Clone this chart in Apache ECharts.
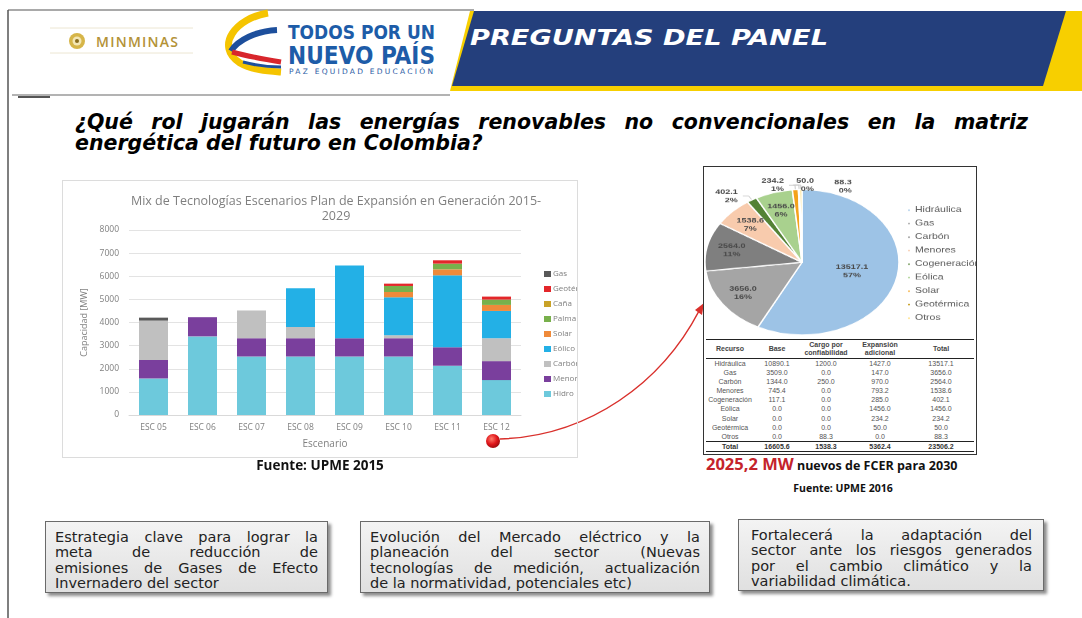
<!DOCTYPE html>
<html>
<head>
<meta charset="utf-8">
<script src="https://cdn.jsdelivr.net/npm/echarts@6/dist/echarts.min.js"></script>
<style>
  body { margin:0; width:1082px; height:618px; background:#fff; position:relative; overflow:hidden; font-family:"DejaVu Sans", sans-serif; }
  .abs { position:absolute; }
  #question { left:75px; top:112px; width:953px; font:bold italic 20.5px/21px "DejaVu Sans", sans-serif; text-align:justify; color:#000; }
  #barWrap { left:62px; top:180px; width:516px; height:278px; border:1px solid #dcdcdc; box-sizing:border-box; overflow:hidden; }
  #bar { left:-1px; top:-1px; width:560px; height:278px; }
  #pieBox { left:703px; top:166px; width:274px; height:289px; border:1px solid #333; box-sizing:border-box; }
  #pie { left:704px; top:167px; width:272px; height:228px; transform:scaleY(0.75); transform-origin:0 0; }
  #tbl { left:706px; top:339px; width:268px; border-collapse:collapse; font:7px "Liberation Sans", Arial, sans-serif; color:#555; }
  #tbl th { font-weight:bold; color:#444; padding:1px 0; border-top:1px solid #222; border-bottom:1px solid #222; line-height:8px; }
  #tbl td { text-align:center; padding:0; line-height:9.1px; }
  #tbl tr.tot td { font-weight:bold; color:#333; border-top:1px solid #222; border-bottom:1px solid #222; line-height:9px; }
  .src { font-family:"Open Sans", sans-serif; font-weight:bold; color:#111; }
  .box { top:521px; height:72px; box-sizing:border-box; border:1px solid #6a6a6a; background:linear-gradient(to bottom,#f3f3f3,#e0e0e0); box-shadow:3px 3px 3px rgba(0,0,0,0.45); padding:8px 9px; font:14.5px/15.3px "DejaVu Sans", sans-serif; color:#222; }
  .box span { display:block; text-align:justify; text-align-last:justify; white-space:nowrap; }
  .box span:last-child { text-align-last:left; }
</style>
</head>
<body>

<svg class="abs" style="left:0;top:0" width="1082" height="618">
  <!-- marco -->
  <line x1="8" y1="10" x2="8" y2="618" stroke="#555" stroke-width="1.5"/>
  <line x1="8" y1="10" x2="474" y2="10" stroke="#555" stroke-width="1.2"/>
  <!-- cabecera -->
  <polygon points="470,11 1082,11 1082,91 450,91" fill="#f7cf00"/>
  <polygon points="474,11 1066,11 1043,86 452,86" fill="#243f7c"/>
  <line x1="12" y1="95" x2="450" y2="95" stroke="#9a9a9a" stroke-width="1.5"/>
  <line x1="18" y1="97" x2="50" y2="97" stroke="#555" stroke-width="2"/>
  <line x1="50" y1="28" x2="193" y2="28" stroke="#ece6d2"/>
  <line x1="50" y1="53" x2="193" y2="53" stroke="#ece6d2"/>
  <circle cx="77" cy="41" r="8" fill="#d6b548"/>
  <circle cx="77" cy="41" r="4.5" fill="#f3e6b4"/>
  <circle cx="77" cy="41" r="2" fill="#8a6d1d"/>
  <text x="96" y="46.5" font-family="Open Sans" font-weight="600" font-size="14" fill="#b39237" textLength="82">MINMINAS</text>
  <path d="M268,13 C236,18 214,46 240,63 C252,70 268,71 281,72" stroke="#f5c400" stroke-width="7" fill="none"/>
  <path d="M277,30 C256,31 238,40 231,51" stroke="#1d4f9c" stroke-width="6" fill="none"/>
  <path d="M232,52 C246,56 263,59 281,62" stroke="#d8262c" stroke-width="5" fill="none"/>
  <path d="M243,62 C258,66 270,67 281,67" stroke="#1d4f9c" stroke-width="3" fill="none"/>
  <text x="288" y="39" font-family="DejaVu Sans Condensed" font-weight="bold" font-size="20" fill="#1d5ca8" textLength="147" lengthAdjust="spacingAndGlyphs">TODOS POR UN</text>
  <text x="288" y="64" font-family="DejaVu Sans Condensed" font-weight="bold" font-size="25" fill="#1d5ca8" textLength="147" lengthAdjust="spacingAndGlyphs">NUEVO PAÍS</text>
  <text x="289" y="74" font-family="DejaVu Sans" font-size="7.5" fill="#2a5ba4" textLength="144">PAZ  EQUIDAD  EDUCACIÓN</text>
  <text x="470" y="45" font-family="DejaVu Sans" font-weight="bold" font-style="italic" font-size="22" fill="#fff" textLength="358" lengthAdjust="spacingAndGlyphs">PREGUNTAS DEL PANEL</text>
  <!-- flecha -->
  <path d="M500,439 C590,436 662,382 699,311" stroke="#d9302c" stroke-width="1.5" fill="none"/>
  <polygon points="704,303 702,315 695,310" fill="#d9302c"/>
</svg>

<div id="question" class="abs">¿Qué rol jugarán las energías renovables no convencionales en la matriz energética del futuro en Colombia?</div>

<div id="barWrap" class="abs"><div id="bar" class="abs"></div></div>
<svg class="abs" style="left:484px;top:432px" width="18" height="18">
  <defs>
    <radialGradient id="dot" cx="40%" cy="35%" r="65%">
      <stop offset="0" stop-color="#ff7a6a"/>
      <stop offset="0.6" stop-color="#e0161b"/>
      <stop offset="1" stop-color="#a00d10"/>
    </radialGradient>
  </defs>
  <circle cx="9" cy="9" r="7" fill="url(#dot)"/>
</svg>
<div class="abs src" style="left:200px;top:456px;width:240px;text-align:center;font-size:13.5px;">Fuente: UPME 2015</div>

<div id="pieBox" class="abs"></div>
<div id="pie" class="abs"></div>
<table id="tbl" class="abs"></table>
<div class="abs src" style="left:706px;top:452px;white-space:nowrap;"><span style="color:#c4232b;font-size:16.5px;">2025,2 MW</span><span style="font-size:12.5px;"> nuevos de FCER para 2030</span></div>
<div class="abs src" style="left:743px;top:481px;width:200px;text-align:center;font-size:10.5px;">Fuente: UPME 2016</div>

<div class="abs box" style="left:45px;width:283px;"><span>Estrategia clave para lograr la</span><span>meta de reducción de</span><span>emisiones de Gases de Efecto</span><span>Invernadero del sector</span></div>
<div class="abs box" style="left:360px;width:350px;"><span>Evolución del Mercado eléctrico y la</span><span>planeación del sector (Nuevas</span><span>tecnologías de medición, actualización</span><span>de la normatividad, potenciales etc)</span></div>
<div class="abs box" style="left:738px;top:519px;width:306px;padding-left:12px;padding-right:11px;"><span>Fortalecerá la adaptación del</span><span>sector ante los riesgos generados</span><span>por el cambio climático y la</span><span>variabilidad climática.</span></div>

<script>
// escenarios del plan de expansión (MW)
const escenarios = ['ESC 05', 'ESC 06', 'ESC 07', 'ESC 08', 'ESC 09', 'ESC 10', 'ESC 11', 'ESC 12']
const hidro   = [1580, 3400, 2530, 2530, 2530, 2530, 2130, 1510]
const menores = [800, 830, 790, 790, 790, 790, 800, 820]
const carbon  = [1700, 0, 1200, 490, 0, 130, 0, 990]
const eolico  = [0, 0, 0, 1670, 3150, 1640, 3110, 1180]
const solar   = [0, 0, 0, 0, 0, 230, 260, 260]
const palma   = [0, 0, 0, 0, 0, 260, 245, 230]
const cana    = [0, 0, 0, 0, 0, 0, 0, 0]
const geoterm = [0, 0, 0, 0, 0, 100, 145, 130]
const gas     = [130, 0, 0, 0, 0, 0, 0, 0]

// tabla UPME 2016
const recursos  = ['Hidráulica', 'Gas', 'Carbón', 'Menores', 'Cogeneración', 'Eólica', 'Solar', 'Geotérmica', 'Otros']
const base      = [10890.1, 3509.0, 1344.0, 745.4, 117.1, 0.0, 0.0, 0.0, 0.0]
const cargo     = [1200.0, 0.0, 250.0, 0.0, 0.0, 0.0, 0.0, 0.0, 88.3]
const expansion = [1427.0, 147.0, 970.0, 793.2, 285.0, 1456.0, 234.2, 50.0, 0.0]
const total     = [13517.1, 3656.0, 2564.0, 1538.6, 402.1, 1456.0, 234.2, 50.0, 88.3]
const totales   = ['16605.6', '1538.3', '5362.4', '23506.2']

// ---------- barras ----------
function renderBar() {
  const chart = echarts.init(document.querySelector('#bar'))
  const txt = '#808080'
  const capas = [
    ['Hidro', hidro, '#6dc9dc'],
    ['Menores', menores, '#7a3f9d'],
    ['Carbón', carbon, '#c0c0c0'],
    ['Eólico', eolico, '#23b0e6'],
    ['Solar', solar, '#ef8a3a'],
    ['Palma', palma, '#78b04c'],
    ['Caña', cana, '#c9a227'],
    ['Geotérm', geoterm, '#e3262a'],
    ['Gas', gas, '#595959']
  ]
  const option = {
    animation: false,
    textStyle: { fontFamily: 'Open Sans' },
    title: {
      text: 'Mix de Tecnologías Escenarios Plan de Expansión en Generación 2015-\n2029',
      left: 269,
      textAlign: 'center',
      top: 9,
      textStyle: { fontSize: 12.5, fontWeight: 'normal', color: '#7f7f7f', lineHeight: 15 }
    },
    legend: {
      orient: 'vertical',
      left: 477,
      top: 85,
      itemWidth: 7,
      itemHeight: 6,
      itemGap: 7,
      icon: 'rect',
      data: ['Gas', 'Geotérm', 'Caña', 'Palma', 'Solar', 'Eólico', 'Carbón', 'Menores', 'Hidro'],
      textStyle: { fontSize: 8, color: txt, padding: [0, 0, 0, -3] }
    },
    grid: { left: 67, right: 101, top: 50, bottom: 43 },
    xAxis: {
      type: 'category',
      data: escenarios,
      name: 'Escenario',
      nameLocation: 'middle',
      nameGap: 24,
      nameTextStyle: { fontSize: 10, color: txt },
      axisLine: { lineStyle: { color: '#d9d9d9' } },
      axisTick: { show: false },
      axisLabel: { fontSize: 8.5, color: txt, margin: 8 }
    },
    yAxis: {
      type: 'value',
      min: 0,
      max: 8000,
      interval: 1000,
      name: 'Capacidad [MW]',
      nameLocation: 'middle',
      nameGap: 36,
      nameTextStyle: { fontSize: 9, color: txt },
      axisLabel: { fontSize: 8.5, color: txt, margin: 10, formatter: v => String(v) },
      splitLine: { lineStyle: { color: '#e3e3e3' } }
    },
    series: capas.map(([name, data, color]) => ({
      name,
      type: 'bar',
      stack: 'total',
      barWidth: 29,
      data,
      itemStyle: { color }
    }))
  }
  chart.setOption(option)
}

// ---------- torta ----------
function renderPie() {
  const chart = echarts.init(document.querySelector('#pie'))
  const colores = ['#9dc3e6', '#a5a5a5', '#7f7f7f', '#f8cbad', '#548235', '#a9d18e', '#f4a21c', '#bf9000', '#ffd966']
  const afuera = [4, 6, 7, 8]
  const empujar = [1, 2, 3, 5]   // etiquetas internas más hacia el borde
  const centro = [98, 127]
  // corrimiento de etiquetas pequeñas para que no se encimen
  const corrimiento = { 7: [26, 0], 8: [62, 2] }
  const option = {
    animation: false,
    legend: {
      orient: 'vertical',
      left: 197,
      top: 47,
      icon: 'circle',
      itemWidth: 4,
      itemHeight: 4,
      itemGap: 7,
      data: recursos,
      textStyle: { fontSize: 10.5, color: '#595959', fontFamily: 'Liberation Sans', padding: [0, 0, 0, -1] }
    },
    series: [{
      type: 'pie',
      center: centro,
      radius: 97,
      startAngle: 90,
      clockwise: true,
      percentPrecision: 0,
      avoidLabelOverlap: false,
      itemStyle: { borderColor: '#fff', borderWidth: 1.5 },
      label: {
        position: 'inside',
        fontSize: 9,
        fontFamily: 'Liberation Sans',
        fontWeight: 'bold',
        color: '#4a4a4a',
        lineHeight: 11,
        overflow: 'none',
        formatter: p => p.value.toFixed(1) + '\n' + p.percent + '%'
      },
      labelLayout: p => {
        const c = corrimiento[p.dataIndex]
        if (c) return { dx: c[0], dy: c[1], hideOverlap: false }
        if (empujar.includes(p.dataIndex)) {
          const r = p.labelRect
          const cx = r.x + r.width / 2 - centro[0]
          const cy = r.y + r.height / 2 - centro[1]
          return { dx: cx * 0.4, dy: cy * 0.4, hideOverlap: false }
        }
        return { hideOverlap: false }
      },
      data: recursos.map((name, i) => ({
        name,
        value: total[i],
        itemStyle: { color: colores[i] },
        label: afuera.includes(i) ? { position: 'outside' } : {},
        labelLine: { show: afuera.includes(i), length: 6, length2: 6, lineStyle: { color: '#c8c8c8' } }
      }))
    }]
  }
  chart.setOption(option)
}

// ---------- tabla ----------
function renderTable() {
  const f = v => v.toFixed(1)
  let html = '<colgroup><col style="width:48px"><col style="width:46px"><col style="width:52px"><col style="width:56px"><col style="width:66px"></colgroup>'
  html += '<tr><th>Recurso</th><th>Base</th><th>Cargo por<br>confiabilidad</th><th>Expansión<br>adicional</th><th>Total</th></tr>'
  recursos.forEach((r, i) => {
    html += `<tr><td>${r}</td><td>${f(base[i])}</td><td>${f(cargo[i])}</td><td>${f(expansion[i])}</td><td>${f(total[i])}</td></tr>`
  })
  html += `<tr class="tot"><td>Total</td>${totales.map(t => `<td>${t}</td>`).join('')}</tr>`
  document.querySelector('#tbl').innerHTML = html
}

renderBar()
renderPie()
renderTable()
</script>
</body>
</html>
